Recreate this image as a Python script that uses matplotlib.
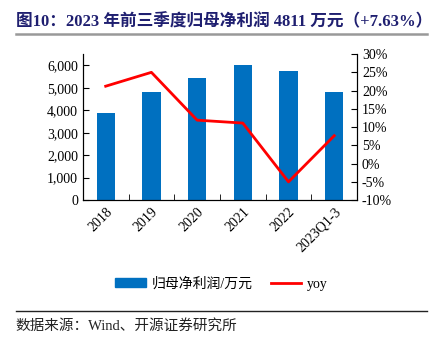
import matplotlib.pyplot as plt
import matplotlib.ticker as mticker
from matplotlib.lines import Line2D
from matplotlib.patches import Patch
import numpy as np

plt.rcParams['font.family'] = ['Liberation Serif', 'Noto Sans CJK SC']

# data
categories = ['2018', '2019', '2020', '2021', '2022', '2023Q1-3']
profit = [3870, 4820, 5420, 6030, 5730, 4811]       # 归母净利润/万元
yoy = [21.2, 25.0, 11.9, 11.1, -5.0, 7.63]          # %

bar_color = '#0070C0'
line_color = '#FF0000'
navy = '#1F1F70'

fig = plt.figure(figsize=(4.43, 3.38), dpi=100)
ax = fig.add_axes([0.187, 0.408, 0.619, 0.432])
x = np.arange(len(categories))
ax.bar(x, profit, width=0.4, color=bar_color, zorder=2)
ax.set_ylim(0, 6500)
ax.set_xlim(-0.5, len(categories) - 0.5)
ax.set_yticks(range(0, 6001, 1000))
ax.yaxis.set_major_formatter(mticker.FuncFormatter(lambda v, p: f'{int(v):,}'))
ax.set_xticks(x)
ax.set_xticklabels(categories, rotation=45, ha='right', rotation_mode='anchor')
ax.set_xticks(np.arange(0.5, len(categories) - 1, 1), minor=True)
ax.tick_params(axis='x', which='major', length=0, labelsize=10, pad=4)
ax.tick_params(axis='x', which='minor', direction='in', length=4)
ax.tick_params(axis='y', direction='in', length=4, labelsize=10)
ax.spines['top'].set_visible(False)

ax2 = ax.twinx()
ax2.plot(x, yoy, color=line_color, lw=2, zorder=3)
ax2.set_ylim(-10, 30)
ax2.set_yticks(range(-10, 31, 5))
ax2.yaxis.set_major_formatter(mticker.FuncFormatter(lambda v, p: f'{int(v)}%'))
ax2.tick_params(axis='y', direction='in', length=4, labelsize=10)
ax2.spines['top'].set_visible(False)

# title and rules
fig.text(0.035, 0.935, '图10：2023 年前三季度归母净利润 4811 万元（+7.63%）',
         fontsize=12, fontweight='bold', color=navy, ha='left', va='center')
fig.add_artist(Line2D([0.035, 0.965], [0.9, 0.9], color='#999999', lw=1.8))
fig.add_artist(Line2D([0.035, 0.965], [0.08, 0.08], color='#222222', lw=1.0))

handles = [Patch(color=bar_color, label='归母净利润/万元'),
           Line2D([0], [0], color=line_color, lw=2, label='yoy')]
fig.legend(handles=handles, loc='center', bbox_to_anchor=(0.5, 0.16), ncol=2,
           frameon=False, fontsize=10, handlelength=2.2, handleheight=0.6,
           columnspacing=1.3, handletextpad=0.4)

fig.text(0.035, 0.035, '数据来源：Wind、开源证券研究所', fontsize=10.5,
         ha='left', va='center', color='#222222')

fig.savefig('out.png', dpi=100)
